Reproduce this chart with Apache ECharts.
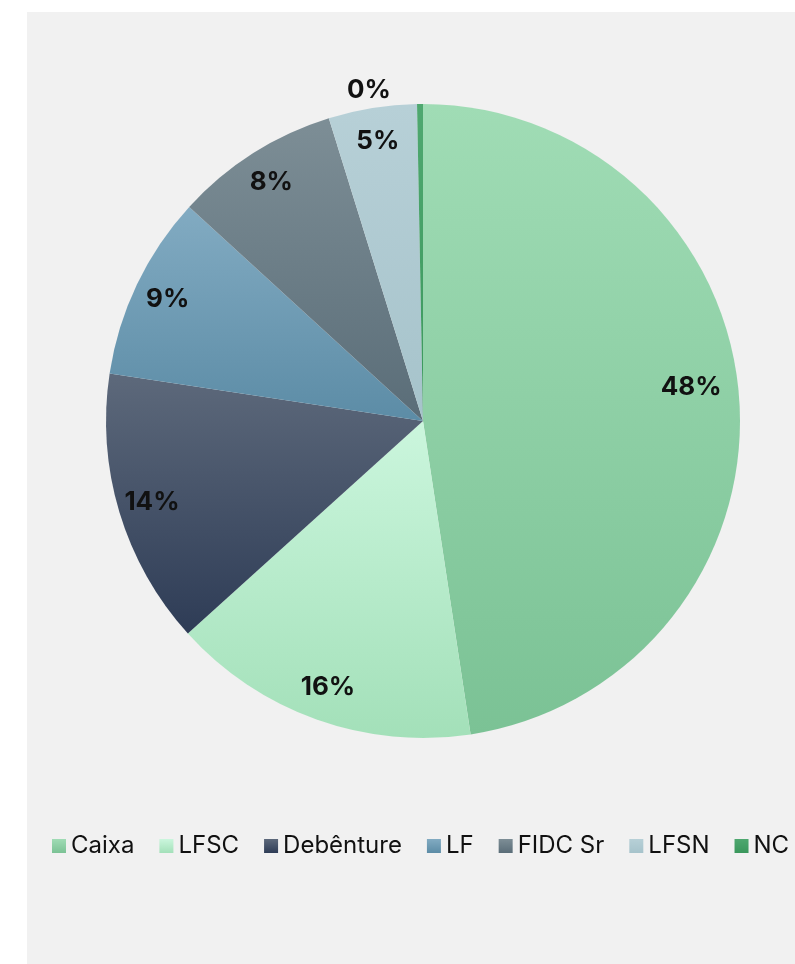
<!DOCTYPE html>
<html>
<head>
<meta charset="utf-8">
<script src="https://cdn.jsdelivr.net/npm/echarts@6/dist/echarts.min.js"></script>
<style>
  html, body { margin: 0; padding: 0; background: #ffffff; }
  #chart {
    position: absolute;
    left: 27px;
    top: 12px;
    width: 768px;
    height: 952px;
    background: #f1f1f1;
  }
</style>
</head>
<body>
<div id="chart"></div>
<script>
// categories and shares (%)
var categories = ["Caixa", "LFSC", "Debênture", "LF", "FIDC Sr", "LFSN", "NC"];
var shares = [47.6, 15.7, 14.1, 9.4, 8.4, 4.5, 0.3];

// top / bottom colour of each slice gradient
var topColors = ["#a0dcb5", "#cbf6dd", "#5d697b", "#82abc2", "#7d8e96", "#b7d0d7", "#4fa870"];
var bottomColors = ["#7bc295", "#a3e0b9", "#2e3c56", "#5c8ca6", "#5a6d78", "#a6c3cb", "#3a975c"];

function grad(i) {
  return new echarts.graphic.LinearGradient(0, 0, 0, 1, [
    { offset: 0, color: topColors[i] },
    { offset: 1, color: bottomColors[i] },
  ]);
}

var pieData = categories.map(function (name, i) {
  return { name: name, value: shares[i], itemStyle: { color: grad(i) } };
});

// transparent ring used only to place the labels
var labelData = categories.map(function (name, i) {
  var item = { name: name, value: shares[i] };
  if (name === "NC") {
    item.label = { position: "outside" };
  }
  if (name === "Caixa") {
    item.label = { offset: [-14, -12] }; // excel "best fit" nudge
  }
  return item;
});

var chart = echarts.init(document.getElementById("chart"));
chart.setOption({
  animation: false,
  legend: {
    data: categories,
    left: 25,
    top: 822,
    padding: 0,
    width: 1200,
    itemWidth: 14,
    itemHeight: 14,
    itemGap: 25,
    icon: "rect",
    textStyle: {
      fontFamily: "Inter",
      fontSize: 24,
      color: "#111111",
    },
    selectedMode: false,
  },
  series: [
    {
      type: "pie",
      center: [396, 409],
      radius: [0, 317],
      startAngle: 90,
      clockwise: true,
      silent: true,
      label: { show: false },
      labelLine: { show: false },
      emphasis: { disabled: true },
      data: pieData,
    },
    {
      type: "pie",
      center: [396, 409],
      radius: [243, 317],
      startAngle: 90,
      clockwise: true,
      silent: true,
      itemStyle: { color: "transparent" },
      emphasis: { disabled: true },
      avoidLabelOverlap: false,
      label: {
        show: true,
        position: "inside",
        formatter: function (p) {
          return Math.round(p.value) + "%";
        },
        fontFamily: "Inter",
        fontSize: 26,
        fontWeight: "bold",
        color: "#111111",
        distanceToLabelLine: 5,
      },
      labelLine: { show: false, length: 14, length2: 24 },
      data: labelData,
    },
  ],
});
</script>
</body>
</html>
